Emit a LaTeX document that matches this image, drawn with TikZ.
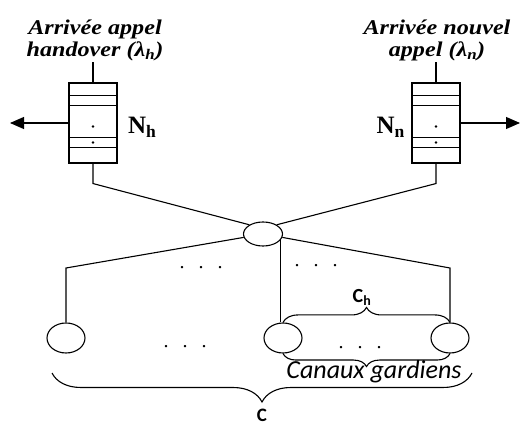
\documentclass[tikz,border=0pt]{standalone}
\usepackage{fontspec}
\setmainfont{Liberation Serif}
\newfontfamily\arrfont[FakeStretch=1.15]{Liberation Serif}
\newfontfamily\calfont{Carlito}
\usetikzlibrary{arrows.meta,shapes.geometric,decorations.pathreplacing,calc}

\tikzset{
  file/.style={draw,rectangle,minimum width=48pt,minimum height=80pt,inner sep=0pt},
  canal/.style={draw,ellipse,minimum width=38pt,minimum height=30pt,inner sep=0pt},
  sortie/.style={-{Triangle[length=14pt,width=12pt]}},
  accolade/.style={decorate,decoration={brace,amplitude=#1}},
  accolade/.default=10pt,
  arrivee/.style={align=center,inner sep=0.5pt,font=\arrfont\bfseries\itshape\fontsize{21}{22}\selectfont},
  nlabel/.style={inner sep=0pt,font=\bfseries\fontsize{25}{25}\selectfont},
  points/.style={inner sep=0pt,font=\fontsize{20}{20}\selectfont},
}

\begin{document}
\begin{tikzpicture}[x=1pt,y=-1pt,line width=1.1pt]
\useasboundingbox (0,0) rectangle (522,427);

% files d'attente
\node[file] (qh) at (93,123) {};
\node[file] (qn) at (436,123) {};
\foreach \q in {qh,qn}{
  \foreach \dy in {13,23,55,65}
    \draw ($(\q.north west)+(0,\dy)$) -- ($(\q.north east)+(0,\dy)$);
  \fill ($(\q.north)+(0,44)$) circle (1.4pt);
  \fill ($(\q.north)+(0,60)$) circle (1.4pt);
}

% arrivees
\node[arrivee,anchor=south] (txth) at (95,62) {Arrivée appel\\handover (λ\textsubscript{h})};
\node[arrivee,anchor=south] (txtn) at (437,62) {Arrivée nouvel\\appel (λ\textsubscript{n})};
\draw (qh.north) -- (qh.north |- txth.south);
\draw (qn.north) -- (qn.north |- txtn.south);

% sorties
\coordinate (outh) at (10,123);
\coordinate (outn) at (520,123);
\draw[sortie] (qh.west) -- (outh);
\draw[sortie] (qn.east) -- (outn);
\node[nlabel,anchor=west] (nh) at ($(qh.east)+(10,4)$) {N\textsubscript{h}};
\node[nlabel,anchor=east] (nn) at ($(qn.west)+(-6,4)$) {N\textsubscript{n}};

% noeud central et canaux
\node[draw,ellipse,minimum width=39pt,minimum height=24pt,inner sep=0pt] (ctr) at (263,234) {};
\node[canal] (c1) at (66,338) {};
\node[canal] (c2) at (283,338) {};
\node[canal] (c3) at (450,338) {};
\coordinate (coudeg) at (66,268);
\coordinate (couded) at (450,268);

\draw (qh.south) -- ++(0,20) -- (ctr.146);
\draw (qn.south) -- ++(0,20) -- (ctr.34);
\draw (ctr.190) -- (coudeg) -- (c1);
\draw (ctr.-10) -- (couded) -- (c3);
\draw (ctr.-20) -- (ctr.-20 |- c2.north);

\node[points] (d1) at (201,268) {.\hspace{14pt}.\hspace{14pt}.};
\node[points] (d2) at (316,266) {.\hspace{14pt}.\hspace{14pt}.};
\node[points] (d3) at (185,347) {.\hspace{14pt}.\hspace{14pt}.};
\node[points] (d4) at (360,348) {.\hspace{14pt}.\hspace{14pt}.};

% accolades
\draw[accolade=15pt] (c2.north) -- (c3.north);
\node[font=\calfont\bfseries\fontsize{20}{20}\selectfont] (ch) at (362,297) {C\textsubscript{h}};
\draw[accolade=13pt] (c3.south) -- (c2.south);
\node[font=\calfont\itshape\fontsize{26}{26}\selectfont] (gard) at (374,372) {Canaux gardiens};
\coordinate (accd) at (472,373);
\coordinate (accg) at (52,373);
\draw[accolade=29pt] (accd) -- (accg);
\node[font=\calfont\bfseries\fontsize{19}{19}\selectfont] (ctot) at (262,415) {C};
\end{tikzpicture}
\end{document}
